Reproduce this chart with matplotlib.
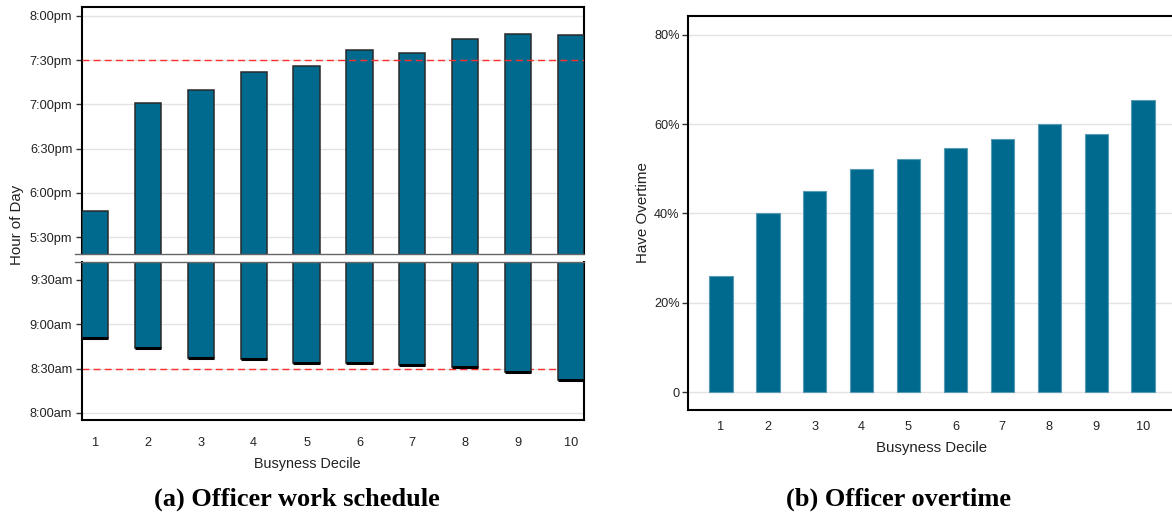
import matplotlib
matplotlib.use("Agg")
import matplotlib.pyplot as plt
import numpy as np

# ---------------------------------------------------------------
# data (hours of day, decimal)
# ---------------------------------------------------------------
deciles = [1, 2, 3, 4, 5, 6, 7, 8, 9, 10]
shift_start = [8.84, 8.73, 8.62, 8.61, 8.565, 8.56, 8.54, 8.52, 8.46, 8.37]
shift_end = [17.80, 19.02, 19.16, 19.37, 19.43, 19.61, 19.575, 19.74, 19.80, 19.78]
overtime_pct = [26.1, 40.0, 45.0, 50.0, 52.3, 54.7, 56.7, 60.0, 57.8, 65.5]

pm_ticks = [17.5, 18.0, 18.5, 19.0, 19.5, 20.0]
pm_labels = ["5:30pm", "6:00pm", "6:30pm", "7:00pm", "7:30pm", "8:00pm"]
am_ticks = [8.0, 8.5, 9.0, 9.5]
am_labels = ["8:00am", "8:30am", "9:00am", "9:30am"]
pct_ticks = [0, 20, 40, 60, 80]
pct_labels = ["0", "20%", "40%", "60%", "80%"]

ref_end = 19.5
ref_start = 8.5

# ---------------------------------------------------------------
# style
# ---------------------------------------------------------------
BAR = "#006a8e"
TXT = "#222222"
GRID = "#e3e3e3"

plt.rcParams.update({
    "font.family": "Liberation Sans",
    "font.size": 9.2,
    "xtick.color": TXT,
    "ytick.color": TXT,
    "xtick.labelcolor": TXT,
    "ytick.labelcolor": TXT,
})

W, H = 1172, 513
fig = plt.figure(figsize=(W / 100, H / 100), dpi=100)


def px_axes(x0, y0, x1, y1):
    return fig.add_axes([x0 / W, 1 - y1 / H, (x1 - x0) / W, (y1 - y0) / H])


ax_pm = px_axes(82, 7, 584, 254)
ax_am = px_axes(82, 262, 584, 420)
ax_ot = px_axes(688, 16, 1176, 410)

x = np.array(deciles)
start = np.array(shift_start)
end = np.array(shift_end)

pm_lim = (17.31, 20.10)
am_lim = (7.92, 9.70)

# evening part (bar tops = end of shift)
ax_pm.bar(x, end - pm_lim[0] + 0.5, bottom=pm_lim[0] - 0.5, width=0.5,
          color=BAR, edgecolor="#2a2a2a", linewidth=1.1, zorder=3)
ax_pm.axhline(ref_end, color="#ff3030", linestyle=(0, (5, 3)), linewidth=1.0, zorder=4)
ax_pm.set_ylim(*pm_lim)
ax_pm.set_yticks(pm_ticks)
ax_pm.set_yticklabels(pm_labels)

# morning part (bar bottoms = start of shift)
ax_am.bar(x, am_lim[1] + 0.5 - start, bottom=start, width=0.5,
          color=BAR, edgecolor="#2a2a2a", linewidth=1.1, zorder=3)
ax_am.hlines(start, x - 0.25, x + 0.25, color="black", linewidth=2.2, zorder=4)
ax_am.axhline(ref_start, color="#ff3030", linestyle=(0, (5, 3)), linewidth=1.0, zorder=2)
ax_am.set_ylim(*am_lim)
ax_am.set_yticks(am_ticks)
ax_am.set_yticklabels(am_labels)

for ax in (ax_pm, ax_am):
    ax.set_xlim(0.75, 10.25)
    ax.grid(True, axis="y", color=GRID, linewidth=1.0, zorder=0)
    ax.set_axisbelow(True)
    ax.tick_params(axis="y", length=4, width=1, color="#333333", pad=3)
    for s in ax.spines.values():
        s.set_color("black")
        s.set_linewidth(1.5)

# axis break: grey edges that stick out a little to the left
ax_pm.spines["bottom"].set_visible(False)
ax_am.spines["top"].set_visible(False)
ax_pm.plot([-0.014, 1], [0, 0], transform=ax_pm.transAxes, color="#666666",
           linewidth=1.0, clip_on=False, zorder=5)
ax_am.plot([-0.014, 1], [1, 1], transform=ax_am.transAxes, color="#666666",
           linewidth=1.0, clip_on=False, zorder=5)

ax_pm.set_xticks([])
ax_am.set_xticks(deciles)
ax_am.tick_params(axis="x", length=0, pad=12)
ax_am.set_xlabel("Busyness Decile", fontsize=10.4, color=TXT)
ax_am.xaxis.set_label_coords(0.448, -0.235)

fig.text(17 / W, 1 - 225 / H, "Hour of Day", rotation=90, fontsize=10.8,
         color=TXT, ha="center", va="center")

# overtime panel
ax_ot.bar(x, overtime_pct, width=0.5, color=BAR, edgecolor="#5b9ab3",
          linewidth=0.8, zorder=3)
ax_ot.set_xlim(0.3, 10.7)
ax_ot.set_ylim(-4.0, 84.2)
ax_ot.set_yticks(pct_ticks)
ax_ot.set_yticklabels(pct_labels)
ax_ot.set_xticks(deciles)
ax_ot.grid(True, axis="y", color=GRID, linewidth=1.0, zorder=0)
ax_ot.set_axisbelow(True)
ax_ot.tick_params(axis="y", length=4, width=1, color="#333333", pad=2)
ax_ot.tick_params(axis="x", length=0, pad=8)
for s in ax_ot.spines.values():
    s.set_color("black")
    s.set_linewidth(1.5)
ax_ot.set_xlabel("Busyness Decile", fontsize=10.8, color=TXT, labelpad=6)
ax_ot.set_ylabel("Have Overtime", fontsize=10.9, color=TXT, labelpad=3)

# captions
cap = dict(fontsize=19, fontweight="bold", family="Liberation Serif",
           ha="center", va="center", color="black")
fig.text(297 / W, 1 - 499 / H, "(a) Officer work schedule", **cap)
fig.text(898 / W, 1 - 499 / H, "(b) Officer overtime", **cap)

fig.savefig("out.png", dpi=100, facecolor="white")
